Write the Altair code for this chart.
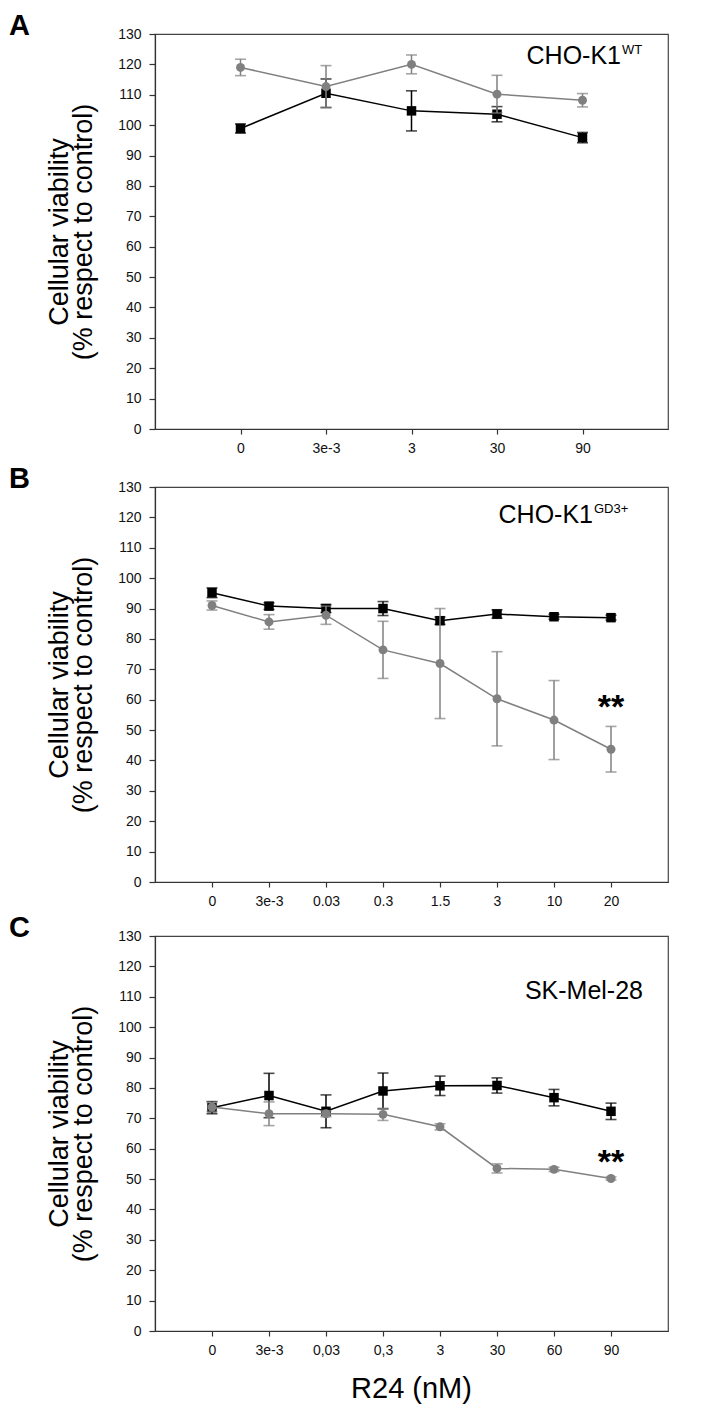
import altair as alt
import pandas as pd

FONT = "Liberation Sans"
BLACK = "#000000"
GRAY = "#808080"

# ---- Panel A : CHO-K1 WT ----
a_labels = ["0", "3e-3", "3", "30", "90"]
a_black = [98.9, 110.5, 104.7, 103.6, 95.9]
a_black_err = [1.5, 4.7, 6.6, 2.5, 1.7]
a_gray = [119.0, 112.7, 120.0, 110.2, 108.2]
a_gray_err = [2.7, 6.9, 3.1, 6.2, 2.2]

# ---- Panel B : CHO-K1 GD3+ ----
b_labels = ["0", "3e-3", "0.03", "0.3", "1.5", "3", "10", "20"]
b_black = [95.2, 90.8, 90.0, 90.0, 86.0, 88.2, 87.3, 87.0]
b_black_err = [1.6, 1.1, 1.3, 2.3, 1.2, 1.4, 0.8, 0.8]
b_gray = [91.0, 85.6, 87.8, 76.4, 71.9, 60.3, 53.3, 43.7]
b_gray_err = [1.5, 2.4, 3.0, 9.4, 18.1, 15.5, 13.0, 7.5]

# ---- Panel C : SK-Mel-28 ----
c_labels = ["0", "3e-3", "0,03", "0,3", "3", "30", "60", "90"]
c_black = [73.5, 77.5, 72.3, 79.0, 80.7, 80.8, 76.8, 72.3]
c_black_err = [2.0, 7.3, 5.4, 5.9, 3.2, 2.5, 2.7, 2.7]
c_gray = [73.7, 71.5, 71.5, 71.3, 67.2, 53.5, 53.2, 50.2]
c_gray_err = [1.5, 3.9, 1.0, 2.0, 1.0, 1.5, 0.7, 0.5]

y_ticks = list(range(0, 131, 10))
y_title = ["Cellular viability", "(% respect to control)"]
x_title = "R24 (nM)"

W, H = 513, 395


def panel(letter, labels, black, black_err, gray, gray_err,
          name, sup, name_right, name_base, sup_base, star_y=None, xtitle=None):
    n = len(labels)
    xs = list(range(1, n + 1))
    df = pd.DataFrame({
        "x": xs * 2,
        "y": list(black) + list(gray),
        "lo": [v - e for v, e in zip(black, black_err)] + [v - e for v, e in zip(gray, gray_err)],
        "hi": [v + e for v, e in zip(black, black_err)] + [v + e for v, e in zip(gray, gray_err)],
        "s": ["black"] * n + ["gray"] * n,
    })
    lab_js = "[" + ",".join("'" + l + "'" for l in labels) + "]"
    xaxis_kw = dict(values=xs, labelExpr=lab_js + "[datum.value-1]", grid=False,
                    tickSize=5, labelPadding=7, labelFontSize=14)
    if xtitle:
        xaxis_kw.update(title=xtitle, titleFontSize=29, titleFontWeight="normal",
                        titleX=256, titlePadding=17)
    else:
        xaxis_kw.update(title=None)
    xenc = alt.X("x:Q", scale=alt.Scale(domain=[0, n + 1], nice=False, zero=False),
                 axis=alt.Axis(**xaxis_kw))

    yscale = alt.Scale(domain=[0, 130], nice=False, zero=True)
    yaxis = alt.Axis(values=y_ticks, title=y_title, grid=False, tickSize=6,
                     labelPadding=8, labelFontSize=14, titleFontSize=27,
                     titleFontWeight="normal", titleLineHeight=24, titleX=-82)

    def Y(f):
        return alt.Y(f + ":Q", scale=yscale, axis=yaxis)

    base = alt.Chart(df)
    layers = []
    for s, col, shape, size in [("black", BLACK, "square", 90), ("gray", GRAY, "circle", 80)]:
        b = base.transform_filter(alt.datum.s == s)
        layers.append(b.mark_rule(color=col, strokeWidth=1.5).encode(x=xenc, y=Y("lo"), y2="hi"))
        layers.append(b.mark_tick(color=col, orient="horizontal", size=11, thickness=1.6).encode(x=xenc, y=Y("lo")))
        layers.append(b.mark_tick(color=col, orient="horizontal", size=11, thickness=1.6).encode(x=xenc, y=Y("hi")))
        layers.append(b.mark_line(color=col, strokeWidth=1.5).encode(x=xenc, y=Y("y")))
        layers.append(b.mark_point(color=col, filled=True, opacity=1, shape=shape, size=size).encode(x=xenc, y=Y("y")))

    # panel letter
    layers.append(alt.Chart(pd.DataFrame({"t": [letter]})).mark_text(
        font=FONT, fontSize=29, fontWeight="bold", align="left", baseline="top", color=BLACK
    ).encode(text="t:N", x=alt.value(-146), y=alt.value(-22)))
    # cell line name
    layers.append(alt.Chart(pd.DataFrame({"t": [name]})).mark_text(
        font=FONT, fontSize=25, align="right", baseline="alphabetic", color=BLACK
    ).encode(text="t:N", x=alt.value(name_right), y=alt.value(name_base)))
    if sup:
        layers.append(alt.Chart(pd.DataFrame({"t": [sup]})).mark_text(
            font=FONT, fontSize=13, align="left", baseline="alphabetic", color=BLACK
        ).encode(text="t:N", x=alt.value(name_right + 1), y=alt.value(sup_base)))
    if star_y is not None:
        layers.append(alt.Chart(pd.DataFrame({"x": [n], "y": [star_y], "t": ["**"]})).mark_text(
            font=FONT, fontSize=34, fontWeight="bold", align="center", baseline="alphabetic", color=BLACK
        ).encode(text="t:N", x=xenc, y=Y("y")))

    return alt.layer(*layers).properties(width=W, height=H)


pa = panel("A", a_labels, a_black, a_black_err, a_gray, a_gray_err,
           "CHO-K1", "WT", 466, 30, 20)
pb = panel("B", b_labels, b_black, b_black_err, b_gray, b_gray_err,
           "CHO-K1", "GD3+", 438, 36, 26, star_y=54)
pc = panel("C", c_labels, c_black, c_black_err, c_gray, c_gray_err,
           "SK-Mel-28", None, 488, 63, 53, star_y=52, xtitle=x_title)

inner = alt.vconcat(pa, pb, spacing=8)
chart = alt.vconcat(inner, pc, spacing=4).properties(
    padding={"left": 0, "top": 3, "right": 2, "bottom": 2}
).configure_view(
    stroke="#444444", strokeWidth=1.2
).configure_axis(
    labelFont=FONT, titleFont=FONT, labelColor="#111111", titleColor="#000000",
    domainColor="#333333", tickColor="#333333", domainWidth=1.2, tickWidth=1.2
)

chart.save("out.html", embed_options={"renderer": "svg", "actions": False})
